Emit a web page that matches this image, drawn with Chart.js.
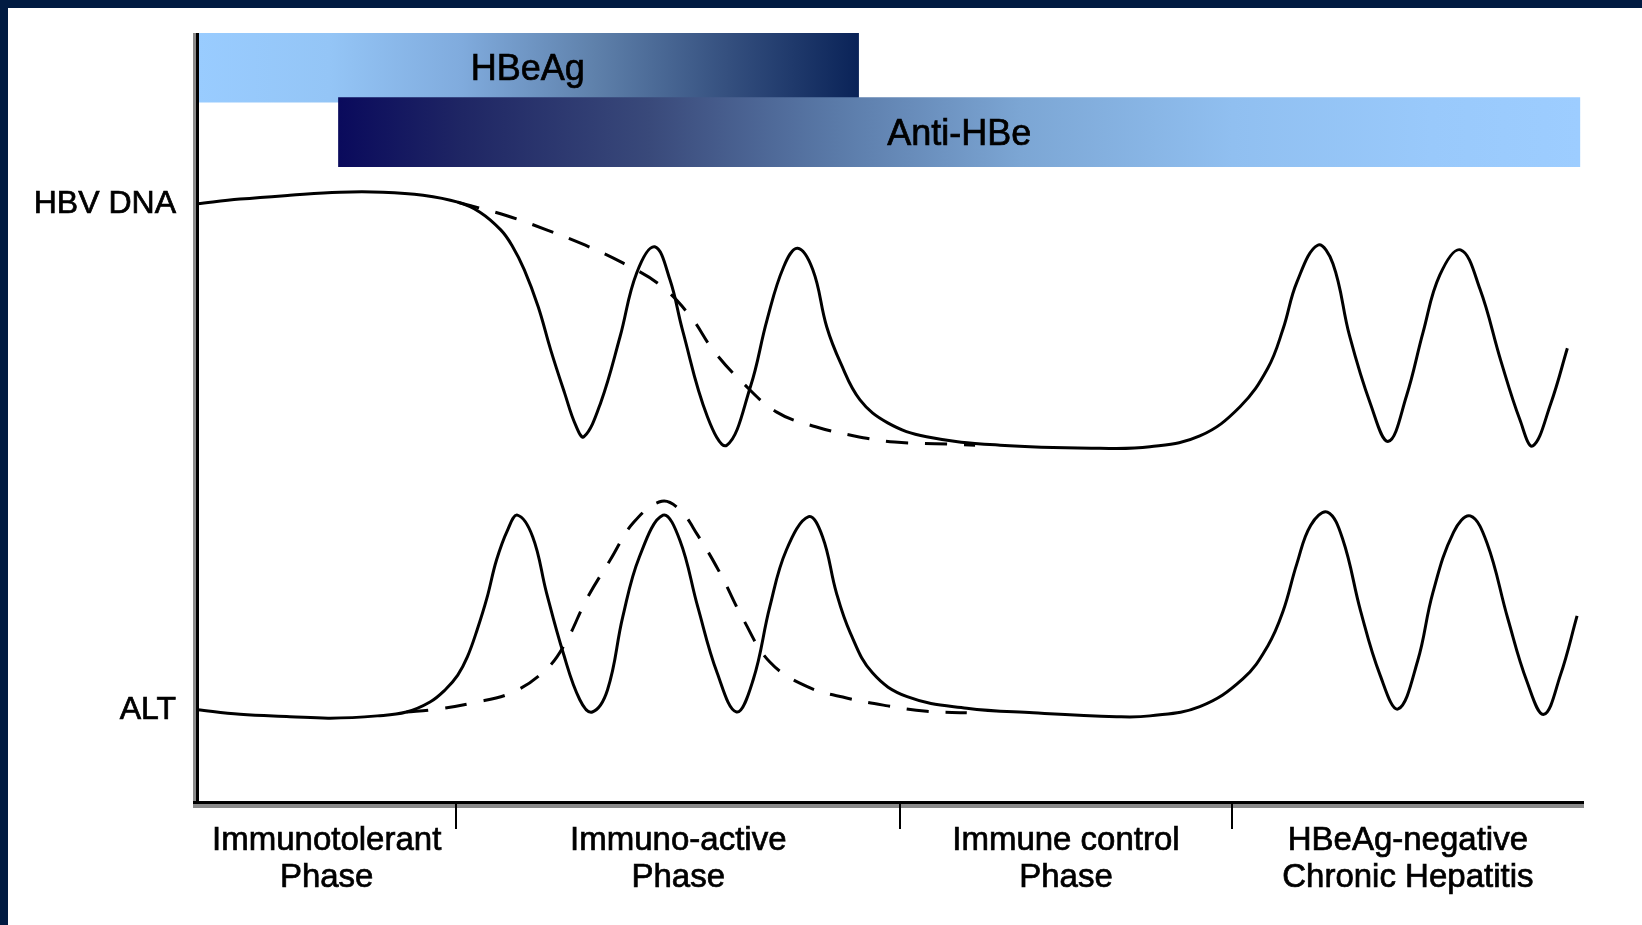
<!DOCTYPE html>
<html>
<head>
<meta charset="utf-8">
<script src="https://cdn.jsdelivr.net/npm/chart.js@4/dist/chart.umd.min.js"></script>
<style>
html,body{margin:0;padding:0;background:#fff;}
canvas{display:block;}
</style>
</head>
<body>
<canvas id="c" width="1642" height="925"></canvas>
<script>
// ---------- DATA ----------
// HBV DNA (solid)
const hbvX = [0, 3.1, 6.7, 10.3, 13.4, 16.3, 18.8, 20.4, 21.9, 22.7, 23.6, 24.6, 25.5, 26.5, 27.3, 27.9, 29.1, 30.5, 31.7, 33.0, 34.1, 35.0, 36.8, 38.2, 39.9, 41.1, 42.3, 43.3, 44.4, 45.4, 46.4, 47.8, 49.8, 52.6, 57.9, 65.1, 68.7, 72.3, 75.2, 77.2, 78.3, 79.3, 80.8, 81.9, 83.1, 84.6, 85.9, 87.2, 88.4, 89.6, 91.1, 92.5, 94.0, 95.4, 96.3, 97.6, 98.8];
const hbvY = [77.8, 78.4, 78.9, 79.3, 79.3, 78.9, 78.0, 76.7, 74.4, 72.4, 69.2, 64.4, 58.8, 53.2, 49.0, 47.5, 51.9, 60.5, 68.8, 72.2, 67.9, 61.4, 50.1, 46.4, 54.0, 62.7, 69.6, 72.0, 69.2, 61.8, 57.1, 52.3, 49.3, 47.5, 46.4, 46.0, 46.2, 47.6, 51.4, 56.4, 61.5, 67.6, 72.4, 70.0, 60.6, 51.8, 46.9, 52.8, 61.1, 68.5, 71.8, 66.7, 57.4, 49.6, 46.3, 51.8, 59.0];
// HBV DNA (dashed)
const hbvDashX = [18.8, 22.4, 25.2, 28.0, 30.7, 33.4, 35.6, 37.2, 39.3, 41.8, 44.6, 47.4, 50.3, 53.2, 56.1];
const hbvDashY = [78.0, 76.2, 74.4, 72.4, 70.1, 67.2, 63.1, 58.8, 54.6, 50.7, 48.8, 47.6, 46.8, 46.6, 46.4];
// ALT (solid)
const altX = [0, 3.1, 6.7, 9.6, 13.0, 15.1, 16.8, 17.9, 18.8, 19.5, 20.2, 20.9, 21.6, 22.4, 23.1, 24.2, 25.2, 26.4, 27.6, 28.5, 29.6, 30.7, 31.9, 33.6, 34.8, 36.1, 37.5, 38.9, 40.1, 41.3, 42.5, 44.1, 45.1, 46.1, 47.1, 48.7, 51.2, 55.5, 60.3, 66.3, 68.7, 72.3, 75.4, 77.2, 78.3, 79.3, 80.3, 81.5, 82.6, 83.9, 85.3, 86.6, 88.0, 89.1, 90.6, 91.8, 93.0, 94.5, 95.9, 97.1, 98.3, 99.5];
const altY = [12.0, 11.4, 11.1, 10.9, 11.2, 11.7, 13.0, 14.6, 16.5, 18.9, 22.4, 26.5, 31.5, 35.4, 37.3, 34.5, 27.2, 19.4, 13.3, 11.7, 14.6, 24.1, 31.9, 37.3, 34.1, 25.4, 16.8, 11.7, 15.9, 25.4, 32.8, 37.1, 34.5, 27.2, 22.0, 16.8, 13.7, 12.2, 11.6, 11.1, 11.2, 12.4, 16.0, 20.3, 24.8, 31.0, 36.0, 37.7, 34.2, 24.8, 16.5, 12.1, 18.3, 27.2, 35.1, 37.2, 33.7, 23.9, 15.6, 11.4, 16.5, 24.2];
// ALT (dashed)
const altDashX = [15.1, 17.0, 19.9, 22.8, 25.2, 26.6, 28.1, 29.8, 31.5, 33.5, 34.8, 36.1, 37.7, 39.4, 41.3, 44.0, 46.9, 49.8, 52.6, 55.5];
const altDashY = [11.7, 12.0, 12.9, 14.3, 17.3, 20.8, 26.4, 31.5, 36.4, 39.1, 38.0, 34.7, 29.8, 23.7, 18.2, 15.0, 13.5, 12.5, 11.8, 11.6];

// Serological marker bars
const markerNames = ["HBeAg", "Anti-HBe"];
const markerStart = [0, 10.2];
const markerEnd = [47.7, 99.7];
const markerLevel = [95.5, 87.1];

// Phases (x-axis)
const phaseEdges = [0, 18.7, 50.7, 74.6, 100];
const phaseLabels = [["Immunotolerant", "Phase"], ["Immuno-active", "Phase"], ["Immune control", "Phase"], ["HBeAg-negative", "Chronic Hepatitis"]];

// Series labels (y-axis)
const seriesLabels = ["HBV DNA", "ALT"];

// ---------- STYLE ----------
const FONT = '"Liberation Sans", Arial, sans-serif';
const gradientStops = [
  [[0, '#99ccff'], [0.2, '#94c5f6'], [0.4, '#80abdd'], [0.6, '#5f81ab'], [0.8, '#35507f'], [1, '#0a2358']],
  [[0, '#0a0a5c'], [0.1, '#1f2664'], [0.25, '#39497a'], [0.4, '#5a7aa8'], [0.55, '#7ca6d4'], [0.72, '#90bff0'], [0.88, '#99c9fb'], [1, '#9dcdff']]
];

const toPts = (xs, ys) => xs.map((x, i) => ({ x: x, y: ys[i] }));

function barFill(ctx) {
  const chart = ctx.chart;
  if (!chart.chartArea || ctx.dataIndex === undefined) return '#7aa0cc';
  const xs = chart.scales.x;
  const i = ctx.dataIndex;
  const x0 = xs.getPixelForValue(markerStart[i]);
  const x1 = xs.getPixelForValue(markerEnd[i]);
  const g = chart.ctx.createLinearGradient(x0, 0, x1, 0);
  gradientStops[i].forEach(s => g.addColorStop(s[0], s[1]));
  return g;
}

const lineStyle = {
  type: 'line',
  borderColor: '#000',
  borderWidth: 3,
  pointRadius: 0,
  pointHoverRadius: 0,
  fill: false,
  tension: 0.4,
  borderJoinStyle: 'round'
};

function txt(c, t, x, y) {
  c.strokeText(t, x, y);
  c.fillText(t, x, y);
}

const decor = {
  id: 'decor',
  beforeDraw(chart) {
    const c = chart.ctx;
    c.save();
    c.fillStyle = '#ffffff';
    c.fillRect(0, 0, chart.width, chart.height);
    c.fillStyle = '#011b42';
    c.fillRect(0, 0, chart.width, 8);
    c.fillRect(0, 0, 8, chart.height);
    c.restore();
  },
  afterDatasetsDraw(chart) {
    const c = chart.ctx, xs = chart.scales.x, ys = chart.scales.y, a = chart.chartArea;
    c.save();
    c.fillStyle = '#000';
    c.strokeStyle = '#000';
    c.lineWidth = 0.7;
    c.textAlign = 'center';
    c.textBaseline = 'alphabetic';
    // bar labels
    c.font = '36px ' + FONT;
    markerNames.forEach((n, i) => {
      const cx = (xs.getPixelForValue(markerStart[i]) + xs.getPixelForValue(markerEnd[i])) / 2;
      const cy = ys.getPixelForValue(markerLevel[i]);
      txt(c, n, cx, cy + 36 * 0.358);
    });
    // axes with shadow
    const L = Math.round(a.left), R = Math.round(a.right), T = Math.round(a.top), B = Math.round(a.bottom);
    c.fillStyle = '#8a8a8a';
    c.fillRect(L - 4, T, 3, B - T + 6);
    c.fillRect(L - 4, B + 2, R - L + 4, 4);
    c.fillStyle = '#000';
    c.fillRect(L - 1, T, 3, B - T + 2);
    c.fillRect(L - 4, B - 1, R - L + 4, 3);
    // phase boundary ticks
    for (let i = 1; i < phaseEdges.length - 1; i++) {
      const px = Math.round(xs.getPixelForValue(phaseEdges[i]));
      c.fillRect(px - 1, B + 2, 2, 25);
    }
    // phase labels
    c.font = '33px ' + FONT;
    phaseLabels.forEach((lines, i) => {
      const px = xs.getPixelForValue((phaseEdges[i] + phaseEdges[i + 1]) / 2);
      lines.forEach((t, k) => txt(c, t, px, B + 48 + k * 37));
    });
    // series labels
    c.textAlign = 'right';
    c.font = '32px ' + FONT;
    const starts = [hbvY[0], altY[0]];
    seriesLabels.forEach((t, i) => {
      txt(c, t, L - 21, ys.getPixelForValue(starts[i]) + 32 * 0.358 - 2);
    });
    c.restore();
  }
};

new Chart(document.getElementById('c'), {
  type: 'line',
  data: {
    datasets: [
      Object.assign({}, lineStyle, { label: 'HBV DNA', data: toPts(hbvX, hbvY) }),
      Object.assign({}, lineStyle, { label: 'HBV DNA (HBeAg)', data: toPts(hbvDashX, hbvDashY), borderDash: [22, 17] }),
      Object.assign({}, lineStyle, { label: 'ALT', data: toPts(altX, altY) }),
      Object.assign({}, lineStyle, { label: 'ALT (HBeAg)', data: toPts(altDashX, altDashY), borderDash: [22, 17] }),
      {
        type: 'bar',
        label: 'Markers',
        indexAxis: 'y',
        grouped: false,
        data: markerNames.map((n, i) => ({ x: [markerStart[i], markerEnd[i]], y: markerLevel[i] })),
        backgroundColor: barFill,
        borderWidth: 0,
        barThickness: 69
      }
    ]
  },
  options: {
    responsive: false,
    animation: false,
    devicePixelRatio: 1,
    events: [],
    layout: { padding: { left: 197, top: 33, right: 58, bottom: 123 } },
    scales: {
      x: { type: 'linear', min: 0, max: 100, display: false, offset: false },
      y: { type: 'linear', min: 0, max: 100, display: false, offset: false }
    },
    plugins: { legend: { display: false }, tooltip: { enabled: false } }
  },
  plugins: [decor]
});
</script>
</body>
</html>
